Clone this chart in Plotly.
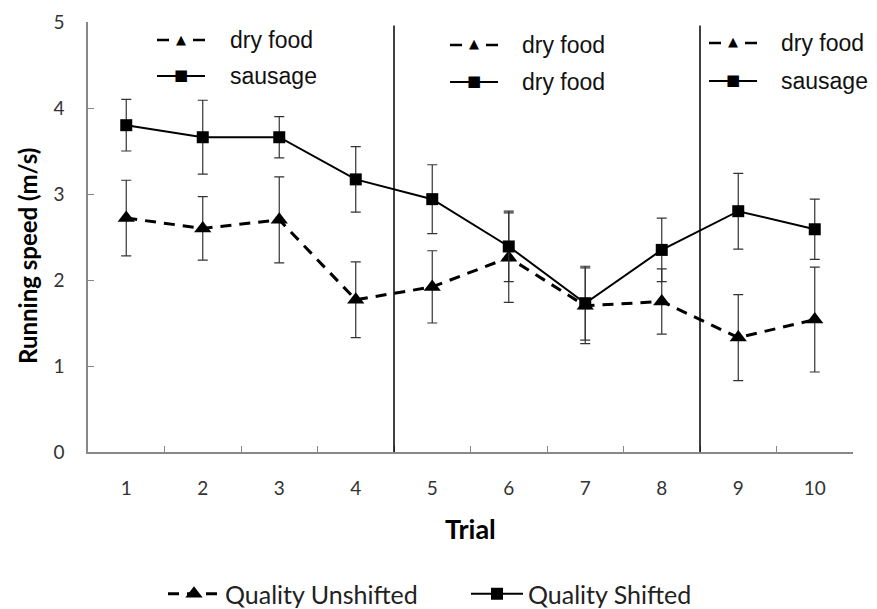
import plotly.graph_objects as go

trials = ["1", "2", "3", "4", "5", "6", "7", "8", "9", "10"]
unshifted = [2.72, 2.60, 2.70, 1.77, 1.92, 2.26, 1.70, 1.75, 1.33, 1.54]
unshifted_err = [0.44, 0.37, 0.50, 0.44, 0.42, 0.52, 0.44, 0.38, 0.50, 0.61]
shifted = [3.80, 3.66, 3.66, 3.17, 2.94, 2.39, 1.73, 2.35, 2.80, 2.59]
shifted_err = [0.30, 0.43, 0.24, 0.38, 0.40, 0.41, 0.43, 0.37, 0.44, 0.35]
phase_top = ["dry food", "dry food", "dry food"]
phase_bottom = ["sausage", "dry food", "sausage"]

# the page body adds an 8px margin; the figure is sized to fill the rest
OFF = 8
W, H = 877 - OFF, 609 - OFF
L, R, T, B = 88 - OFF, 24, 22 - OFF, 157
PW, PH = W - L - R, H - T - B


def px_x(p):
    return (p - OFF - L) / PW


def px_y(p):
    return (H - B - (p - OFF)) / PH


fig = go.Figure()
fig.add_trace(go.Scatter(
    x=trials, y=unshifted, name="Quality Unshifted", mode="lines+markers",
    line=dict(color="black", width=3, dash="11px,8px"),
    marker=dict(symbol="triangle-up", size=15, color="black"),
    error_y=dict(type="data", array=unshifted_err, color="#333", thickness=1.2, width=5),
))
fig.add_trace(go.Scatter(
    x=trials, y=shifted, name="Quality Shifted", mode="lines+markers",
    line=dict(color="black", width=2),
    marker=dict(symbol="square", size=12, color="black"),
    error_y=dict(type="data", array=shifted_err, color="#333", thickness=1.2, width=5),
))

for xb in [3.5, 7.5]:
    fig.add_shape(type="line", xref="x", yref="y", x0=xb, x1=xb, y0=0, y1=4.96,
                  line=dict(color="black", width=1.5))

# in-plot phase keys: (symbol centre x, text left x, row1 y, row2 y)
blocks = [(181, 228, 40, 76), (474, 520, 45, 82), (733, 779, 43, 81)]
for i, (sx, tx, y1, y2) in enumerate(blocks):
    for a, b in [(sx - 24, sx - 12), (sx + 12, sx + 24)]:
        fig.add_shape(type="line", xref="paper", yref="paper",
                      x0=px_x(a), x1=px_x(b), y0=px_y(y1), y1=px_y(y1),
                      line=dict(color="black", width=2.5))
    fig.add_annotation(x=px_x(sx), y=px_y(y1 - 1), xref="paper", yref="paper",
                       text="▲", showarrow=False, xanchor="center", yanchor="middle",
                       font=dict(family="DejaVu Sans", size=13, color="black"))
    fig.add_shape(type="line", xref="paper", yref="paper",
                  x0=px_x(sx - 24), x1=px_x(sx + 24), y0=px_y(y2), y1=px_y(y2),
                  line=dict(color="black", width=2))
    fig.add_annotation(x=px_x(sx), y=px_y(y2 - 1), xref="paper", yref="paper",
                       text="■", showarrow=False, xanchor="center", yanchor="middle",
                       font=dict(family="DejaVu Sans", size=15, color="black"))
    fig.add_annotation(x=px_x(tx), y=px_y(y1), xref="paper", yref="paper",
                       text=phase_top[i], showarrow=False, xanchor="left", yanchor="middle",
                       font=dict(family="Liberation Sans", size=23, color="#111"))
    fig.add_annotation(x=px_x(tx), y=px_y(y2), xref="paper", yref="paper",
                       text=phase_bottom[i], showarrow=False, xanchor="left", yanchor="middle",
                       font=dict(family="Liberation Sans", size=23, color="#111"))

# axis titles
fig.add_annotation(x=px_x(470), y=px_y(528), xref="paper", yref="paper",
                   text="<b>Trial</b>", showarrow=False, xanchor="center", yanchor="middle",
                   font=dict(family="Lato", size=27, color="black"))
fig.add_annotation(x=px_x(27), y=px_y(256), xref="paper", yref="paper",
                   text="<b>Running speed (m/s)</b>", showarrow=False, textangle=-90,
                   xanchor="center", yanchor="middle",
                   font=dict(family="Lato", size=24, color="black"))

fig.update_layout(
    width=W, height=H,
    margin=dict(l=L, r=R, t=T, b=B, autoexpand=False),
    plot_bgcolor="white", paper_bgcolor="white",
    font=dict(family="Lato", size=19, color="#333"),
    showlegend=True,
    legend=dict(orientation="h", x=px_x(163), y=px_y(594), xanchor="left", yanchor="middle",
                itemwidth=52, entrywidth=236,
                font=dict(family="Lato", size=25, color="#222")),
    xaxis=dict(type="category", range=[-0.5, 9.5], tickson="boundaries", ticks="inside",
               ticklen=6, tickcolor="#888", showline=True, linecolor="#888", linewidth=1.5,
               showgrid=False, automargin=False, ticklabelstandoff=18,
               tickfont=dict(family="Lato", size=19, color="#333")),
    yaxis=dict(range=[0, 5], dtick=1, ticks="inside", ticklen=6, tickcolor="#888",
               showline=True, linecolor="#888", linewidth=1.5, showgrid=False, zeroline=False,
               automargin=False, ticklabelstandoff=18,
               tickfont=dict(family="Lato", size=19, color="#333")),
)

fig.write_html("out.html")
